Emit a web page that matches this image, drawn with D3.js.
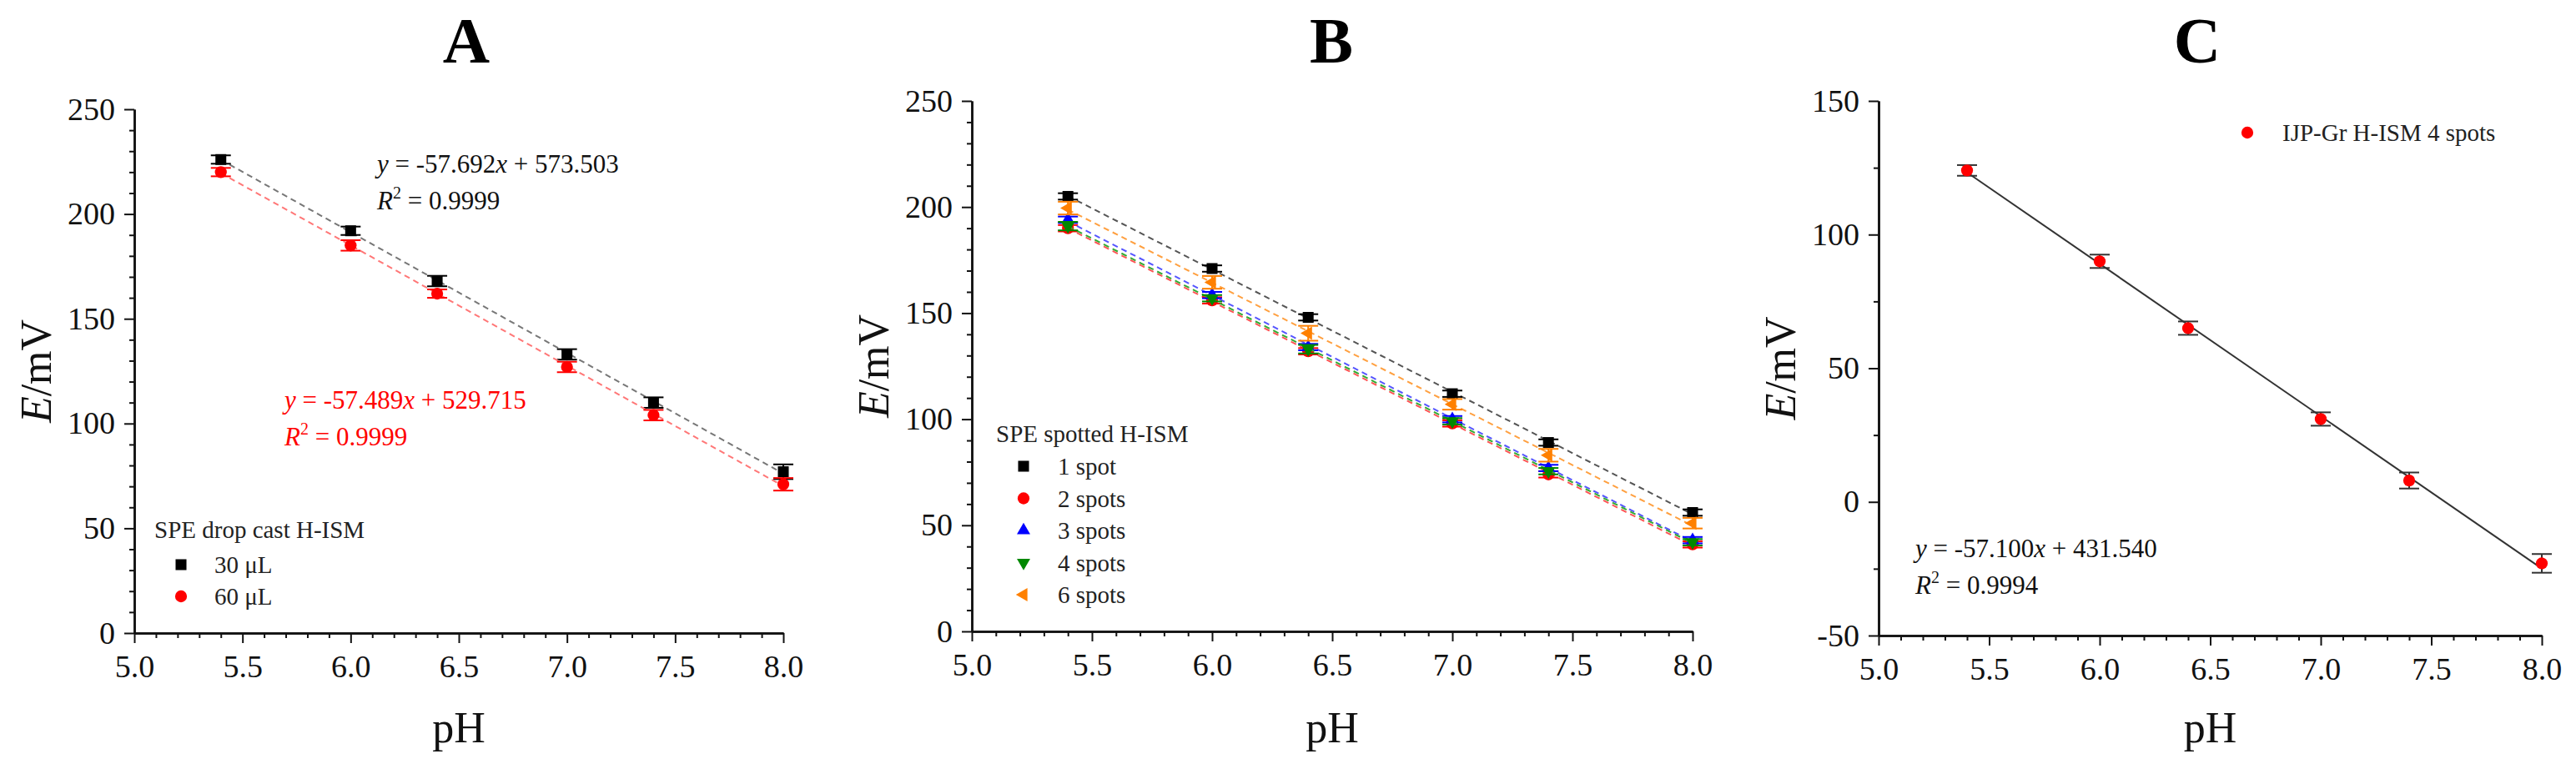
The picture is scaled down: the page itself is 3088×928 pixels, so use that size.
<!DOCTYPE html>
<html>
<head>
<meta charset="utf-8">
<script src="https://cdn.jsdelivr.net/npm/d3@7"></script>
<style>
  body { margin: 0; background: #fff; }
  svg text { font-family: "Liberation Serif", "Times New Roman", serif; }
</style>
</head>
<body>
<svg id="chart" width="3088" height="928"></svg>
<script>
// values
var pH = [5.4, 6.0, 6.4, 7.0, 7.4, 8.0];
var xTicks = [5.0, 5.5, 6.0, 6.5, 7.0, 7.5, 8.0];
var titles = ["A", "B", "C"];

// A: SPE drop cast H-ISM
var aLegendTitle = "SPE drop cast H-ISM";
var aNames = ["30 μL", "60 μL"];
var a30 = [226, 192, 168, 133, 110, 77];
var a30Err = [2, 2, 2.5, 2.5, 2.5, 3.5];
var a60 = [220, 185, 162, 127, 104, 71];
var a60Err = [2, 2.5, 2, 2.5, 2.5, 3];
var aYTicks = [0, 50, 100, 150, 200, 250];
var aEq30 = ["-57.692", "573.503", "0.9999"];
var aEq60 = ["-57.489", "529.715", "0.9999"];

// B: SPE spotted H-ISM
var bLegendTitle = "SPE spotted H-ISM";
var bNames = ["1 spot", "2 spots", "3 spots", "4 spots", "6 spots"];
var b1 = [205, 171, 148, 112, 89, 56];
var b2 = [190, 156, 132, 98, 74, 41];
var b3 = [194, 158.5, 134, 100, 77, 43];
var b4 = [191, 157, 133, 99, 75.5, 42];
var b6 = [199.5, 164.5, 140.5, 107, 83, 51];
var b1Err = [1.5, 1.5, 1.5, 1.5, 1.5, 1.5];
var b2Err = [1.5, 1.5, 1.5, 1.5, 1.5, 1.5];
var b3Err = [1.5, 1.5, 1.5, 1.5, 1.5, 1.5];
var b4Err = [2, 1.5, 2, 1.5, 1.5, 1.5];
var b6Err = [3, 3, 3.5, 2.5, 3, 2.5];
var bYTicks = [0, 50, 100, 150, 200, 250];

// C: IJP-Gr H-ISM
var cName = "IJP-Gr H-ISM 4 spots";
var c4 = [124, 90, 65, 31, 8, -23];
var c4Err = [2, 2.5, 2.5, 2.5, 3, 3.5];
var cYTicks = [-50, 0, 50, 100, 150];
var cEq = ["-57.100", "431.540", "0.9994"];

var svg = d3.select("#chart");
var serif = '"Liberation Serif", "Times New Roman", serif';

// least squares fit of a series against pH
function fit(xs, ys) {
  var mx = d3.mean(xs), my = d3.mean(ys);
  var sxy = d3.sum(xs, function(d, i) { return (d - mx) * (ys[i] - my); });
  var sxx = d3.sum(xs, function(d) { return (d - mx) * (d - mx); });
  var b = sxy / sxx;
  return function(v) { return my + b * (v - mx); };
}

function panel(p) {
  var g = svg.append("g");
  var x = d3.scaleLinear().domain([5, 8]).range([p.left, p.right]);
  var y = d3.scaleLinear().domain(p.yDomain).range([p.bottom, p.top]);

  // minor ticks first, majors on top
  var xMinor = d3.range(50, 81).filter(function(d) { return d % 5 != 0; }).map(function(d) { return d / 10; });
  var yMinor = d3.range(p.yDomain[0], p.yDomain[1] + 1, p.yMinor).filter(function(d) { return p.yTicks.indexOf(d) < 0; });

  g.append("g").attr("transform", "translate(0," + p.bottom + ")")
    .call(d3.axisBottom(x).tickValues(xMinor).tickSize(6).tickSizeOuter(0).tickFormat(""));
  g.append("g").attr("transform", "translate(" + p.left + ",0)")
    .call(d3.axisLeft(y).tickValues(yMinor).tickSize(6).tickSizeOuter(0).tickFormat(""));

  g.append("g").attr("class", "ax").attr("transform", "translate(0," + p.bottom + ")")
    .call(d3.axisBottom(x).tickValues(xTicks).tickSize(12).tickPadding(14).tickSizeOuter(0)
      .tickFormat(d3.format(".1f")));
  g.append("g").attr("class", "ax").attr("transform", "translate(" + p.left + ",0)")
    .call(d3.axisLeft(y).tickValues(p.yTicks).tickSize(12).tickPadding(11).tickSizeOuter(0)
      .tickFormat(function(d) { return String(d); }));

  g.selectAll(".domain").attr("stroke", "#111").attr("stroke-width", 2.5);
  g.selectAll(".tick line").attr("stroke", "#111").attr("stroke-width", 2);
  g.selectAll(".tick text").attr("font-family", serif).attr("font-size", 38).attr("fill", "#111");

  // title letter
  svg.append("text").attr("x", p.titleX).attr("y", 75).attr("text-anchor", "middle")
    .attr("font-size", 78).attr("font-weight", "bold").attr("fill", "#000").text(p.title);

  // axis titles
  svg.append("text").attr("x", (p.left + p.right) / 2).attr("y", 890).attr("text-anchor", "middle")
    .attr("font-size", 52).attr("fill", "#111").text("pH");
  var yl = svg.append("text").attr("text-anchor", "middle").attr("font-size", 52).attr("fill", "#111")
    .attr("transform", "translate(" + (p.left - 100) + "," + ((p.top + p.bottom) / 2) + ") rotate(-90)");
  yl.append("tspan").attr("font-style", "italic").text("E");
  yl.append("tspan").text("/mV");

  return { x: x, y: y, g: g };
}

function series(P, vals, errs, opt) {
  var g = P.g.append("g");
  if (opt.fit) {
    var f = fit(pH, vals);
    var ends = [pH[0], pH[pH.length - 1]];
    g.append("path")
      .datum(ends)
      .attr("d", d3.line().x(function(d) { return P.x(d); }).y(function(d) { return P.y(f(d)); }))
      .attr("fill", "none").attr("stroke", opt.fitColor).attr("stroke-width", opt.fitWidth || 2)
      .attr("stroke-dasharray", opt.dash || null);
  }
  var eb = g.append("g").attr("stroke", opt.errColor).attr("stroke-width", 2);
  pH.forEach(function(d, i) {
    var cx = P.x(d), y1 = P.y(vals[i] + errs[i]), y2 = P.y(vals[i] - errs[i]);
    eb.append("line").attr("x1", cx).attr("x2", cx).attr("y1", y1).attr("y2", y2);
    eb.append("line").attr("x1", cx - 12).attr("x2", cx + 12).attr("y1", y1).attr("y2", y1);
    eb.append("line").attr("x1", cx - 12).attr("x2", cx + 12).attr("y1", y2).attr("y2", y2);
  });
  g.selectAll(".pt").data(vals).enter().append("path")
    .attr("d", d3.symbol().type(opt.symbol).size(opt.size))
    .attr("transform", function(d, i) { return "translate(" + P.x(pH[i]) + "," + P.y(d) + ") rotate(" + (opt.rot || 0) + ")"; })
    .attr("fill", opt.color);
}

function legendItem(x, y, textX, label, opt) {
  svg.append("path").attr("d", d3.symbol().type(opt.symbol).size(opt.size))
    .attr("transform", "translate(" + x + "," + y + ") rotate(" + (opt.rot || 0) + ")")
    .attr("fill", opt.color);
  svg.append("text").attr("x", textX).attr("y", y + 10).attr("font-size", 29).attr("fill", "#222").text(label);
}

function equation(x, y, nums, color) {
  var t = svg.append("text").attr("x", x).attr("y", y).attr("font-size", 31).attr("fill", color);
  t.append("tspan").attr("font-style", "italic").text("y");
  t.append("tspan").text(" = " + nums[0]);
  t.append("tspan").attr("font-style", "italic").text("x");
  t.append("tspan").text(" + " + nums[1]);
  var r = svg.append("text").attr("x", x).attr("y", y + 44).attr("font-size", 31).attr("fill", color);
  r.append("tspan").attr("font-style", "italic").text("R");
  r.append("tspan").attr("font-size", 20).attr("dy", -13).text("2");
  r.append("tspan").attr("dy", 13).text(" = " + nums[2]);
}

var sq = { symbol: d3.symbolSquare, size: 170 };
var ci = { symbol: d3.symbolCircle, size: 160 };
var tri = { symbol: d3.symbolTriangle, size: 110 };

// ---------- panel A ----------
var PA = panel({ left: 161, right: 939, top: 131, bottom: 759, yDomain: [0, 250], yTicks: aYTicks, yMinor: 10, title: titles[0], titleX: 559 });
series(PA, a30, a30Err, { fit: true, fitColor: "#777", dash: "7,5", errColor: "#000", color: "#000", symbol: sq.symbol, size: sq.size });
series(PA, a60, a60Err, { fit: true, fitColor: "#f77", dash: "7,5", errColor: "#f00", color: "#f00", symbol: ci.symbol, size: ci.size });
equation(452, 207, aEq30, "#111");
equation(341, 490, aEq60, "#f00");
svg.append("text").attr("x", 185).attr("y", 645).attr("font-size", 29).attr("fill", "#222").text(aLegendTitle);
legendItem(217, 677, 257, aNames[0], { symbol: sq.symbol, size: sq.size, color: "#000" });
legendItem(217, 715, 257, aNames[1], { symbol: ci.symbol, size: ci.size, color: "#f00" });

// ---------- panel B ----------
var PB = panel({ left: 1165, right: 2029, top: 121, bottom: 757, yDomain: [0, 250], yTicks: bYTicks, yMinor: 10, title: titles[1], titleX: 1596 });
var bStyles = [
  { color: "#000", fitColor: "#555", symbol: sq.symbol, size: sq.size, rot: 0 },
  { color: "#f00", fitColor: "#f55", symbol: ci.symbol, size: ci.size, rot: 0 },
  { color: "#00f", fitColor: "#55f", symbol: tri.symbol, size: tri.size, rot: 0 },
  { color: "#080", fitColor: "#3a3", symbol: tri.symbol, size: tri.size, rot: 180 },
  { color: "#ff8000", fitColor: "#ffa040", symbol: tri.symbol, size: tri.size, rot: -90 }
];
var bVals = [b1, b2, b3, b4, b6];
var bErrs = [b1Err, b2Err, b3Err, b4Err, b6Err];
bVals.forEach(function(v, i) {
  var s = bStyles[i];
  series(PB, v, bErrs[i], { fit: true, fitColor: s.fitColor, dash: "7,5", errColor: s.color, color: s.color, symbol: s.symbol, size: s.size, rot: s.rot });
});
svg.append("text").attr("x", 1194).attr("y", 530).attr("font-size", 29).attr("fill", "#222").text(bLegendTitle);
bNames.forEach(function(n, i) {
  legendItem(1227, 559 + i * 38.5, 1268, n, bStyles[i]);
});

// ---------- panel C ----------
var PC = panel({ left: 2252, right: 3047, top: 121, bottom: 762, yDomain: [-50, 150], yTicks: cYTicks, yMinor: 25, title: titles[2], titleX: 2634 });
series(PC, c4, c4Err, { fit: true, fitColor: "#333", fitWidth: 2, errColor: "#333", color: "#f00", symbol: ci.symbol, size: ci.size });
equation(2296, 668, cEq, "#111");
legendItem(2694, 159, 2736, cName, { symbol: ci.symbol, size: ci.size, color: "#f00" });
</script>
</body>
</html>
